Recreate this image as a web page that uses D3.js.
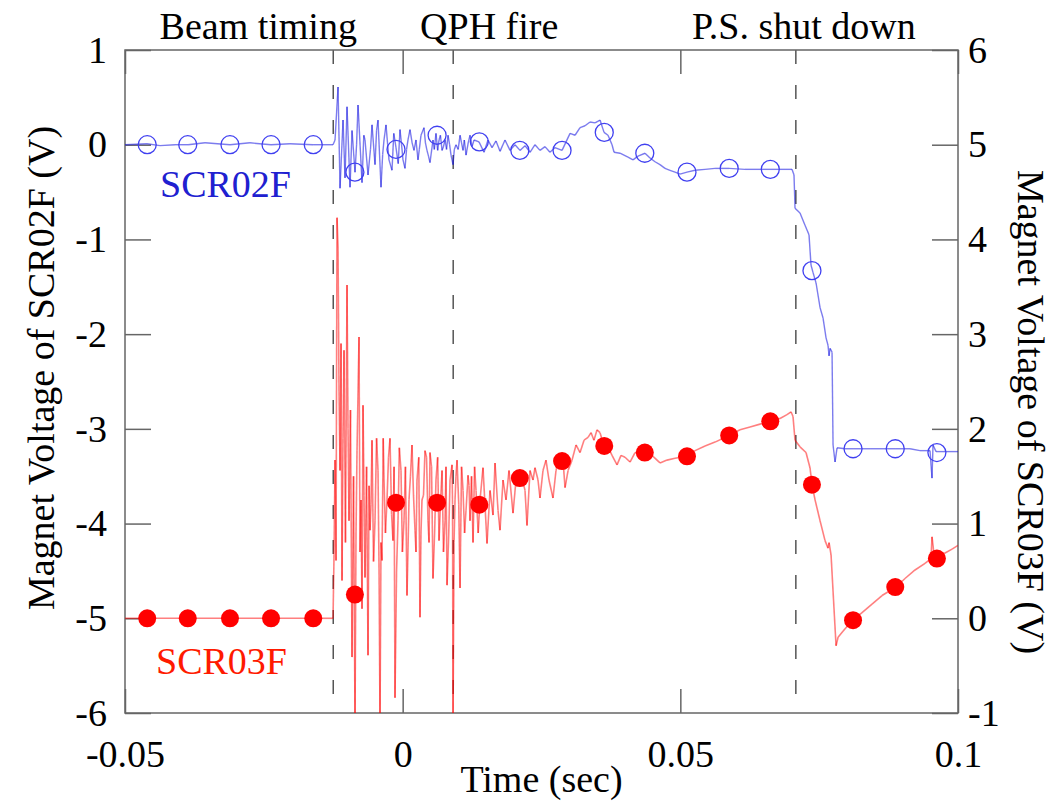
<!DOCTYPE html>
<html lang="en">

<head>
  <meta charset="UTF-8">
  <title>Magnet Voltage SCR02F / SCR03F</title>
  <script src="https://d3js.org/d3.v7.min.js"></script>
  <style>
    body {
      margin: 0;
      background: white;
    }

    svg {
      display: block;
      font-family: "Liberation Serif", "Times New Roman", serif;
    }
  </style>
</head>

<body>
  <div id="chart"></div>

  <script>
    // time in ms, voltage in V (SCR02F on left axis, SCR03F on right axis)
    const scr02fTrace = [
      [-50, 0], [-46.04, 0.01], [-43.7, -0.01], [-41.0, 0], [-38.65, 0], [-35.59, 0.02], [-31.09, 0],
      [-27.49, 0.02], [-23.71, 0], [-20.29, 0.01], [-16.14, 0], [-12.54, 0], [-12.18, 0.05],
      [-11.64, 0.61], [-11.28, -0.46], [-10.74, 0.26], [-10.38, -0.35], [-10.02, 0.40], [-9.48, -0.45],
      [-9.12, 0.15], [-8.58, -0.29], [-8.3, 0.0], [-8.04, 0.42], [-7.32, -0.40], [-7.0, 0.1],
      [-6.78, 0.05], [-6.24, -0.32], [-5.8, -0.05], [-5.52, 0.21], [-4.98, -0.21], [-4.7, 0.15],
      [-4.44, 0.26], [-3.90, -0.45], [-3.6, -0.1], [-3.36, 0.05], [-3.0, 0.21], [-2.7, 0.0],
      [-2.46, -0.16], [-1.92, -0.27], [-1.6, 0.12], [-1.2, -0.03], [-0.8, -0.2], [-0.48, 0.16],
      [-0.2, 0.0], [0.06, -0.16], [0.42, -0.25], [0.7, -0.05], [0.96, 0.05], [1.32, 0.16],
      [1.7, 0.02], [2.04, -0.06], [2.4, 0.05], [2.76, -0.16], [3.0, -0.05], [3.3, 0.10],
      [3.84, 0.18], [4.1, 0.02], [4.38, -0.06], [4.65, -0.12], [4.92, -0.19], [5.46, 0.05],
      [5.7, -0.05], [6.0, 0.12], [6.3, -0.06], [6.55, 0.05], [6.8, 0.1], [7.09, -0.06],
      [7.35, -0.02], [7.63, 0.05], [7.9, -0.05], [8.17, 0.10], [8.45, 0.0], [8.71, -0.11],
      [9.07, -0.21], [9.3, -0.05], [9.61, 0.0], [10.0, -0.05], [10.33, 0.10], [10.6, 0.02],
      [10.87, -0.06], [11.1, 0.05], [11.41, -0.11], [11.8, 0.02], [12.13, 0.10], [12.5, -0.02],
      [12.85, 0.05], [13.75, 0.03], [14.65, -0.08],
      [15.37, 0.05], [16.09, -0.03], [16.81, 0.04], [17.53, -0.07], [18.43, 0.05], [19.33, -0.06],
      [20.23, 0.0], [21.13, -0.06], [22.03, -0.01], [22.93, -0.08], [23.83, 0.0], [24.73, -0.06],
      [25.63, -0.02], [26.53, -0.08], [27.43, -0.03], [28.7, -0.06], [29.42, 0.03], [30.14, 0.12],
      [31.04, 0.10], [31.94, 0.18], [32.84, 0.20], [33.74, 0.24], [34.64, 0.23], [35.54, 0.26],
      [36.26, 0.13], [36.98, 0.10], [37.7, 0.0], [38.06, -0.08], [39.14, -0.09], [40.58, -0.13],
      [41.48, -0.16], [42.38, -0.12], [43.64, -0.09], [44.54, -0.14], [45.44, -0.18], [46.34, -0.21],
      [47.24, -0.25], [48.14, -0.27], [49.04, -0.29], [49.94, -0.31], [51.2, -0.29], [52.65, -0.27],
      [54.45, -0.26], [56.25, -0.25], [58.77, -0.25], [61.65, -0.26], [64.35, -0.26], [66.15, -0.26],
      [68.85, -0.26], [70.11, -0.26], [70.47, -0.32], [70.65, -0.67], [71.55, -0.72], [72.45, -0.85],
      [73.17, -0.95], [73.53, -1.27], [73.9, -1.35], [74.44, -1.46], [75.16, -1.72], [75.7, -1.83],
      [76.24, -2.04], [76.6, -2.12], [76.78, -2.23], [76.96, -2.15], [77.32, -2.19], [77.5, -3.17],
      [77.86, -3.35], [78.22, -3.20], [79.66, -3.21], [81.1, -3.21], [84.16, -3.21], [88.66, -3.21],
      [91.36, -3.21], [93.16, -3.23], [94.96, -3.23], [95.32, -3.52], [95.5, -3.17], [96.05, -3.24],
      [97.67, -3.24], [100, -3.24]
    ]

    const scr03fTrace = [
      [-50, 0], [-46.04, 0], [-38.65, 0], [-31.09, 0], [-23.71, 0], [-16.14, 0], [-12.54, 0],
      [-12.36, 0.67], [-12.18, 1.67], [-12.0, 0.61], [-11.82, 4.23], [-11.64, 3.91], [-11.46, 2.4],
      [-11.28, 1.56], [-11.1, 2.9], [-10.92, 0.40], [-10.74, 1.9], [-10.56, 2.83], [-10.3, 0.8],
      [-10.02, 3.52], [-9.84, 2.0], [-9.66, 1.03], [-9.4, 2.2], [-9.12, -0.41], [-8.85, 1.5],
      [-8.58, -1.1], [-8.4, 0.9], [-8.22, 1.77], [-7.86, 2.97], [-7.68, 0.7], [-7.5, 1.25],
      [-7.32, 0.1], [-7.14, 2.25], [-6.96, 1.3], [-6.78, 0.43], [-6.5, 1.6], [-6.24, -0.39],
      [-6.05, 1.4], [-5.88, 0.93], [-5.7, 1.2], [-5.52, 1.88], [-5.25, 0.6], [-4.98, 1.03],
      [-4.7, 1.9], [-4.44, 1.56], [-4.25, 0.5], [-4.08, -1.1], [-3.9, 0.8], [-3.72, 0.61],
      [-3.5, 1.9], [-3.36, 1.46], [-3.1, 0.9], [-2.82, 1.25], [-2.55, 1.7], [-2.28, 1.90],
      [-2.0, 1.1], [-1.74, 0.82], [-1.55, 1.6], [-1.38, -0.84], [-1.1, 0.5], [-0.84, 1.03],
      [-0.6, 1.8], [-0.3, 1.56], [-0.05, 0.7], [0.24, 1.03], [0.5, 1.6], [0.78, 0.24],
      [0.95, 0.7], [1.14, 1.25], [1.4, 1.5], [1.68, 1.83], [1.95, 1.3], [2.22, 0.93],
      [2.4, 0.7], [2.58, 1.46], [2.9, 1.7], [3.12, 0.01], [3.3, 0.9], [3.48, 1.25],
      [3.75, 1.3], [4.02, 1.77], [4.3, 1.7], [4.56, 1.03], [4.75, 0.8], [4.92, 1.75],
      [5.2, 1.6], [5.46, 0.42], [5.75, 0.9], [6.0, 1.46], [6.3, 1.7], [6.55, 0.82],
      [6.8, 1.2], [7.09, 1.56], [7.35, 0.7], [7.63, 1.03], [7.8, 1.6], [7.99, 0.35],
      [8.3, 0.9], [8.53, 1.46], [8.89, 1.62], [8.98, 1.2], [9.07, -1.1], [9.25, 0.8],
      [9.43, 1.25], [9.6, 1.5], [9.79, 1.67], [10.1, 1.2], [10.33, 0.32], [10.6, 1.6],
      [10.87, 1.35], [11.15, 0.9], [11.41, 1.14], [11.77, 1.51], [11.95, 1.4], [12.13, 1.03],
      [12.4, 1.5], [12.67, 0.80], [12.95, 1.6], [13.21, 1.35], [13.6, 0.9], [13.93, 1.25],
      [14.47, 1.59], [15.19, 0.79], [15.73, 1.35], [16.27, 1.09], [16.63, 1.64],
      [17.17, 1.14], [17.53, 0.93], [18.07, 1.46], [18.61, 1.25], [19.15, 1.56], [19.87, 1.11],
      [20.41, 1.46], [20.95, 1.56], [21.49, 1.48], [22.03, 1.35], [22.39, 0.98], [22.93, 1.56],
      [23.47, 1.46], [23.83, 1.59], [24.37, 1.46], [24.73, 1.27], [25.27, 1.56], [25.81, 1.67],
      [26.35, 1.46], [27.07, 1.27], [27.61, 1.56], [28.33, 1.72], [28.88, 1.66], [29.24, 1.38],
      [29.78, 1.56], [30.5, 1.67], [31.22, 1.83], [31.94, 1.75], [32.66, 1.88], [33.38, 1.91],
      [33.92, 1.96], [34.45, 1.88], [35.0, 1.99], [35.54, 1.96], [36.26, 1.82], [36.98, 1.81],
      [37.7, 1.72], [38.6, 1.62], [39.32, 1.72], [40.04, 1.70], [40.94, 1.65], [41.84, 1.75],
      [42.74, 1.75], [44.0, 1.75], [45.08, 1.71], [46.34, 1.64], [47.6, 1.67], [49.04, 1.69],
      [51.2, 1.71], [52.65, 1.77], [54.45, 1.82], [56.25, 1.86], [58.77, 1.93], [60.75, 1.99],
      [62.55, 2.02], [64.35, 2.05], [66.15, 2.08], [67.95, 2.11], [69.21, 2.15], [69.93, 2.18],
      [70.29, 2.13], [70.65, 1.88], [71.55, 1.81], [72.63, 1.75], [73.35, 1.59], [73.71, 1.41],
      [74.26, 1.25], [75.16, 1.03], [76.06, 0.82], [76.6, 0.74], [76.78, 0.80], [77.14, 0.67],
      [78.04, -0.29], [78.4, -0.20], [79.66, -0.11], [81.1, -0.02], [82.72, 0.06], [84.52, 0.15],
      [86.32, 0.24], [88.84, 0.33], [90.46, 0.42], [92.26, 0.51], [94.06, 0.58], [95.14, 0.63],
      [95.32, 0.86], [95.69, 0.67], [96.41, 0.63], [97.67, 0.69], [98.93, 0.73], [100, 0.77]
    ]

    const markerTimesMs = [-46.0, -38.7, -31.1, -23.7, -16.1, -8.6, -1.2, 6.2, 13.8, 21.1,
      28.7, 36.3, 43.6, 51.2, 58.8, 66.2, 73.7, 81.1, 88.7, 96.2]
    const scr02fMarkers = [0, 0, 0, 0, 0, -0.29, -0.05, 0.10, 0.03, -0.06,
      -0.06, 0.13, -0.09, -0.29, -0.25, -0.26, -1.33, -3.21, -3.21, -3.25]
    const scr03fMarkers = [0, 0, 0, 0, 0, 0.25, 1.22, 1.22, 1.20, 1.48,
      1.66, 1.82, 1.75, 1.71, 1.93, 2.08, 1.41, -0.02, 0.33, 0.63]

    const eventNames = ['Beam timing', 'QPH fire', 'P.S. shut down']
    const eventTimesMs = [-12.5, 9.1, 70.8]

    const xTicks = [-0.05, 0, 0.05, 0.1]
    const leftTicks = [1, 0, -1, -2, -3, -4, -5, -6]
    const rightTicks = [6, 5, 4, 3, 2, 1, 0, -1]

    const width = 1056
    const height = 803
    const plot = { left: 125, right: 958, top: 50, bottom: 713 }
    const axisColor = '#666'
    const fontSize = 38

    const svg = d3.select('#chart')
      .append('svg')
      .attr('width', width)
      .attr('height', height)

    const x = d3.scaleLinear().domain([-0.05, 0.1]).range([plot.left, plot.right])
    const yLeft = d3.scaleLinear().domain([-6, 1]).range([plot.bottom, plot.top])
    const yRight = d3.scaleLinear().domain([-1, 6]).range([plot.bottom, plot.top])

    svg.append('clipPath')
      .attr('id', 'plot-clip')
      .append('rect')
      .attr('x', plot.left)
      .attr('y', plot.top)
      .attr('width', plot.right - plot.left)
      .attr('height', plot.bottom - plot.top)

    // event markers
    svg.selectAll('.event')
      .data(eventTimesMs)
      .enter()
      .append('line')
      .attr('class', 'event')
      .attr('x1', d => x(d / 1000))
      .attr('x2', d => x(d / 1000))
      .attr('y1', plot.top)
      .attr('y2', plot.bottom)
      .attr('stroke', '#555')
      .attr('stroke-width', 1.5)
      .attr('stroke-dasharray', '14,21')

    const labelShift = [-75, 36, 8]
    svg.selectAll('.event-label')
      .data(eventNames)
      .enter()
      .append('text')
      .attr('class', 'event-label')
      .attr('x', (_, i) => x(eventTimesMs[i] / 1000) + labelShift[i])
      .attr('y', 39)
      .attr('text-anchor', 'middle')
      .attr('font-size', fontSize)
      .text(d => d)

    // axes with inward ticks
    const fmt = d => String(d)
    const styleAxis = g => {
      g.attr('font-family', null).attr('font-size', null)
      g.select('.domain').remove()
      g.selectAll('line').attr('stroke', axisColor).attr('stroke-width', 1.5)
      g.selectAll('text').attr('font-size', fontSize).attr('fill', 'black')
    }

    svg.append('g')
      .attr('transform', `translate(0,${plot.bottom})`)
      .call(d3.axisBottom(x).tickValues(xTicks).tickFormat(fmt)
        .tickSizeInner(-24).tickSizeOuter(0).tickPadding(27))
      .call(styleAxis)

    svg.append('g')
      .attr('transform', `translate(0,${plot.top})`)
      .call(d3.axisTop(x).tickValues(xTicks).tickFormat('')
        .tickSizeInner(-24).tickSizeOuter(0))
      .call(styleAxis)

    svg.append('g')
      .attr('transform', `translate(${plot.left},0)`)
      .call(d3.axisLeft(yLeft).tickValues(leftTicks).tickFormat(fmt)
        .tickSizeInner(-26).tickSizeOuter(0).tickPadding(18))
      .call(styleAxis)

    svg.append('g')
      .attr('transform', `translate(${plot.right},0)`)
      .call(d3.axisRight(yRight).tickValues(rightTicks).tickFormat(fmt)
        .tickSizeInner(-26).tickSizeOuter(0).tickPadding(10))
      .call(styleAxis)

    svg.append('rect')
      .attr('x', plot.left)
      .attr('y', plot.top)
      .attr('width', plot.right - plot.left)
      .attr('height', plot.bottom - plot.top)
      .attr('fill', 'none')
      .attr('stroke', axisColor)
      .attr('stroke-width', 1.5)

    // traces, drawn segment by segment so overlapping strokes darken
    const traces = svg.append('g').attr('clip-path', 'url(#plot-clip)')

    traces.selectAll('.seg03')
      .data(d3.pairs(scr03fTrace))
      .enter()
      .append('line')
      .attr('x1', d => x(d[0][0] / 1000))
      .attr('y1', d => yRight(d[0][1]))
      .attr('x2', d => x(d[1][0] / 1000))
      .attr('y2', d => yRight(d[1][1]))
      .attr('stroke', '#ff0000')
      .attr('stroke-opacity', 0.5)
      .attr('stroke-width', 1.6)

    traces.selectAll('.seg02')
      .data(d3.pairs(scr02fTrace))
      .enter()
      .append('line')
      .attr('x1', d => x(d[0][0] / 1000))
      .attr('y1', d => yLeft(d[0][1]))
      .attr('x2', d => x(d[1][0] / 1000))
      .attr('y2', d => yLeft(d[1][1]))
      .attr('stroke', '#1010e0')
      .attr('stroke-opacity', 0.55)
      .attr('stroke-width', 1.4)

    traces.selectAll('.mark03')
      .data(scr03fMarkers)
      .enter()
      .append('circle')
      .attr('cx', (_, i) => x(markerTimesMs[i] / 1000))
      .attr('cy', d => yRight(d))
      .attr('r', 9)
      .attr('fill', '#ff0000')

    traces.selectAll('.mark02')
      .data(scr02fMarkers)
      .enter()
      .append('circle')
      .attr('cx', (_, i) => x(markerTimesMs[i] / 1000))
      .attr('cy', d => yLeft(d))
      .attr('r', 9)
      .attr('fill', 'none')
      .attr('stroke', '#4040f0')
      .attr('stroke-width', 1.3)

    // series names
    svg.append('text')
      .attr('x', 160)
      .attr('y', 197)
      .attr('font-size', fontSize)
      .attr('fill', '#2020d0')
      .text('SCR02F')

    svg.append('text')
      .attr('x', 156)
      .attr('y', 674)
      .attr('font-size', fontSize)
      .attr('fill', '#ff1a00')
      .text('SCR03F')

    // axis titles
    svg.append('text')
      .attr('x', (plot.left + plot.right) / 2)
      .attr('y', 792)
      .attr('text-anchor', 'middle')
      .attr('font-size', fontSize)
      .text('Time (sec)')

    svg.append('text')
      .attr('transform', 'translate(54,368) rotate(-90)')
      .attr('text-anchor', 'middle')
      .attr('font-size', fontSize)
      .text('Magnet Voltage of SCR02F (V)')

    svg.append('text')
      .attr('transform', 'translate(1018,412) rotate(90)')
      .attr('text-anchor', 'middle')
      .attr('font-size', fontSize)
      .text('Magnet Voltage of SCR03F (V)')
  </script>
</body>

</html>
